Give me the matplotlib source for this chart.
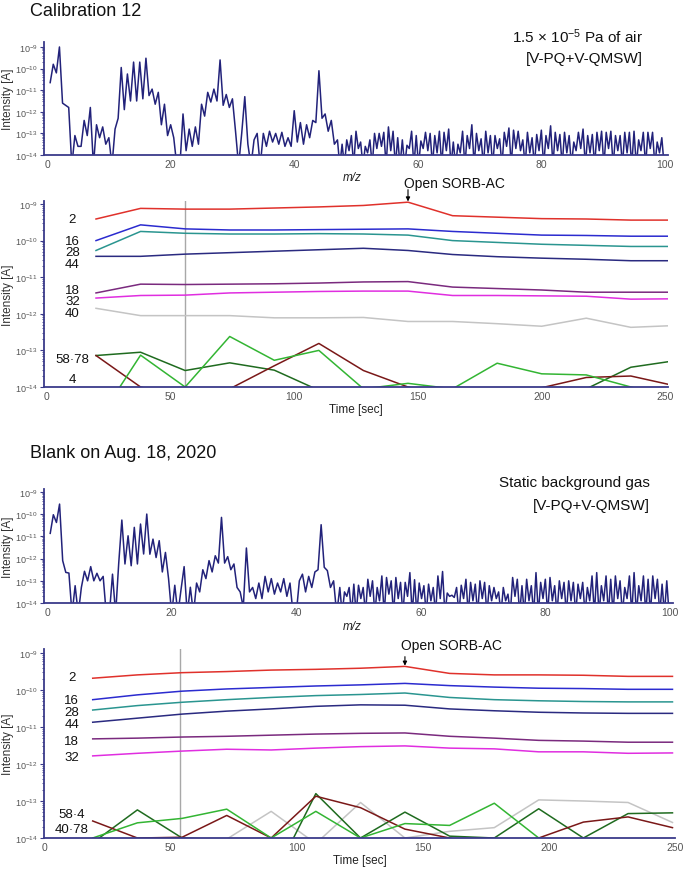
import matplotlib
matplotlib.use('Agg')
import matplotlib.pyplot as plt
import numpy as np
from matplotlib.ticker import LogLocator, LogFormatterMathtext, NullFormatter, FixedLocator

plt.rcParams['font.family'] = ['Liberation Sans', 'DejaVu Sans']
plt.rcParams['mathtext.fontset'] = 'custom'
plt.rcParams['mathtext.rm'] = 'Liberation Sans'
plt.rcParams['mathtext.it'] = 'Liberation Sans:italic'

# ---------------- data (log10 of intensity in A) ----------------
# mass spectra: 0.5 amu steps up to 46.5, then alternating peak / valley
# every 0.375 amu in the noise region
MZ_COARSE = np.arange(0.5, 46.75, 0.5)
MZ_NOISE_PEAKS = np.arange(47.0, 99.6, 0.75)
MZ_NOISE_VALLEYS = MZ_NOISE_PEAKS + 0.375

spec_cal_coarse = [
  -10.65, -9.8, -10.2, -9.0, -11.6, -11.7, -11.8, -14.5, -13.1, -13.6,
  -13.6, -12.4, -13.1, -11.8, -14.5, -12.6, -13.2, -12.7, -13.5, -13.2,
  -14.5, -12.8, -12.3, -9.95, -11.9, -10.25, -11.5, -9.7, -11.5, -9.7,
  -11.4, -9.52, -11.25, -10.95, -11.65, -11.1, -12.6, -11.65, -13.1, -12.6,
  -13.2, -14.5, -14.5, -12.1, -13.8, -12.8, -13.6, -12.7, -13.5, -11.65,
  -12.2, -11.1, -11.55, -10.95, -11.5, -9.6, -11.7, -11.2, -11.8, -11.4,
  -12.9, -14.5, -13.0, -11.3, -13.5, -14.5, -13.3, -13.0, -14.5, -13.0,
  -13.6, -12.9, -13.4, -13.0, -13.5, -12.95, -13.6, -13.2, -13.6, -11.95,
  -13.4, -12.5, -13.5, -12.6, -13.2, -12.4, -12.5, -10.1, -12.3, -12.1,
  -12.9, -12.4, -13.5,
]
cal_noise_peaks = [
  -13.3, -13.5, -13.3, -13.1, -12.9, -13.4, -13.6, -13.3, -13.0, -13.0,
  -12.95, -12.7, -12.9, -13.2, -13.3, -13.55, -12.9, -13.1, -13.35, -12.95,
  -13.0, -13.1, -12.9, -12.95, -12.8, -13.4, -13.5, -12.9, -13.1, -12.6,
  -13.0, -13.25, -12.9, -13.1, -13.1, -13.25, -12.95, -12.75, -12.85, -12.9,
  -13.3, -12.95, -13.2, -13.05, -12.85, -13.1, -12.65, -12.95, -13.05, -12.95,
  -13.1, -13.4, -12.95, -12.8, -13.1, -13.05, -12.95, -12.9, -12.95, -12.9,
  -13.1, -13.1, -12.95, -12.95, -12.9, -13.3, -12.95, -12.95, -12.95, -13.4,
  -13.2,
]
cal_noise_valleys = [
  -14.5, -14.5, -13.8, -14.5, -13.7, -14.5, -13.9, -14.5, -13.7, -13.6,
  -14.5, -13.8, -14.5, -14.5, -14.5, -13.7, -14.5, -14.5, -13.7, -13.8,
  -14.5, -13.9, -14.5, -13.8, -14.5, -14.5, -13.9, -14.5, -13.7, -14.5,
  -13.8, -14.5, -13.9, -14.5, -13.7, -14.5, -13.6, -14.5, -13.7, -13.8,
  -14.5, -13.9, -14.5, -13.8, -14.5, -13.7, -14.5, -13.8, -14.5, -13.9,
  -14.5, -13.8, -13.7, -14.5, -13.9, -14.5, -13.8, -14.5, -13.7, -14.5,
  -13.8, -14.5, -13.9, -14.5, -14.5, -13.8, -14.5, -13.7, -14.5, -13.9,
  -14.5,
]

spec_blank_coarse = [
  -10.86, -10.02, -10.37, -9.54, -12.09, -12.62, -12.65, -14.5, -13.22, -14.5,
  -13.3, -12.57, -13.0, -12.36, -13.0, -12.66, -13.0, -12.8, -14.5, -14.5,
  -12.7, -14.5, -12.2, -10.26, -12.24, -10.97, -12.32, -10.59, -12.24, -10.44,
  -11.79, -9.99, -11.8, -11.12, -11.95, -11.19, -12.6, -11.72, -12.9, -14.5,
  -13.2, -14.5, -13.4, -12.36, -14.5, -13.29, -14.5, -13.1, -13.5, -12.5,
  -12.9, -12.09, -12.6, -11.87, -12.2, -10.14, -12.2, -11.91, -12.5, -12.24,
  -13.3, -13.5, -14.2, -11.52, -13.5, -13.3, -13.8, -13.1, -13.8, -12.8,
  -13.5, -12.9, -13.6, -13.1, -13.5, -12.9, -13.7, -13.1, -14.5, -14.5,
  -13.0, -12.7, -13.5, -12.8, -13.3, -12.6, -12.5, -10.47, -12.39, -12.54,
  -13.3, -13.0, -14.5,
]
blank_noise_peaks = [
  -13.3, -13.5, -13.3, -13.15, -13.2, -13.3, -12.93, -13.0, -13.3, -12.78,
  -12.85, -13.0, -12.85, -13.07, -13.07, -12.63, -12.95, -13.1, -13.22, -13.15,
  -13.3, -12.78, -12.58, -13.55, -13.65, -13.3, -13.2, -12.93, -13.07, -13.15,
  -13.0, -13.07, -13.22, -13.3, -13.5, -13.3, -13.6, -12.85, -12.93, -13.22,
  -12.93, -13.22, -12.63, -13.07, -12.93, -12.85, -13.22, -13.0, -13.07, -13.0,
  -13.07, -13.15, -13.07, -13.3, -12.78, -12.63, -13.22, -12.78, -12.93, -12.78,
  -13.0, -13.3, -12.78, -12.63, -13.22, -12.78, -12.93, -12.78, -12.93, -13.15,
  -13.0,
]
blank_noise_valleys = [
  -14.5, -13.7, -14.5, -14.5, -13.8, -14.5, -13.7, -14.5, -13.9, -14.5,
  -13.6, -14.5, -13.8, -14.5, -13.7, -14.5, -14.5, -13.8, -14.5, -13.9,
  -14.5, -13.8, -14.5, -13.7, -13.75, -14.5, -13.8, -14.5, -13.9, -14.5,
  -13.8, -14.5, -13.9, -13.8, -14.5, -13.9, -14.5, -13.7, -14.5, -14.5,
  -13.9, -14.5, -14.5, -13.8, -14.5, -13.9, -14.5, -13.8, -14.5, -13.9,
  -14.5, -13.8, -14.5, -13.9, -14.5, -14.5, -13.9, -14.5, -14.5, -13.8,
  -14.5, -13.8, -14.5, -14.5, -13.9, -14.5, -14.5, -13.8, -14.5, -14.5,
  -14.5,
]

# time traces
TIMES_CAL = [20, 38, 56, 74, 92, 110, 128, 146, 164, 182, 200, 218, 236, 254]
TIMES_BLANK = [19.3, 37, 54.7, 72.4, 90, 107.7, 125.4, 143, 160.7, 178.4,
               196, 213.7, 231.4, 249]

cal = {
  'm2':  [-9.41, -9.12, -9.14, -9.14, -9.11, -9.08, -9.04, -8.95, -9.32, -9.36, -9.40, -9.41, -9.44, -9.44],
  'm16': [-10.0, -9.57, -9.68, -9.71, -9.71, -9.70, -9.69, -9.68, -9.75, -9.80, -9.85, -9.86, -9.88, -9.88],
  'm28': [-10.27, -9.75, -9.80, -9.82, -9.82, -9.81, -9.82, -9.85, -10.0, -10.05, -10.10, -10.13, -10.16, -10.16],
  'm44': [-10.43, -10.43, -10.37, -10.33, -10.29, -10.25, -10.21, -10.27, -10.38, -10.44, -10.48, -10.51, -10.55, -10.55],
  'm18': [-11.43, -11.19, -11.20, -11.19, -11.18, -11.16, -11.13, -11.12, -11.27, -11.31, -11.35, -11.41, -11.41, -11.41],
  'm32': [-11.57, -11.50, -11.49, -11.43, -11.41, -11.39, -11.38, -11.38, -11.50, -11.50, -11.51, -11.52, -11.60, -11.59],
  'm40': [-11.85, -12.05, -12.05, -12.05, -12.11, -12.11, -12.10, -12.21, -12.21, -12.27, -12.34, -12.12, -12.37, -12.32],
  'm58': [-13.14, -13.05, -13.55, -13.34, -13.54, -14.09, -14.1, -14.1, -14.1, -14.1, -14.1, -14.05, -13.46, -13.28],
  'm4':  [-15.0, -13.13, -14.0, -12.62, -13.27, -13.0, -14.05, -13.9, -14.05, -13.35, -13.64, -13.67, -14.0, -14.3],
  'm78': [-13.14, -14.0, -14.3, -14.05, -13.42, -12.81, -13.55, -14.0, -14.3, -14.3, -14.02, -13.74, -13.70, -13.97],
}

blank = {
  'm2':  [-9.68, -9.59, -9.53, -9.50, -9.46, -9.44, -9.41, -9.36, -9.55, -9.59, -9.59, -9.60, -9.63, -9.63],
  'm16': [-10.26, -10.13, -10.03, -9.97, -9.93, -9.89, -9.86, -9.82, -9.88, -9.92, -9.95, -9.96, -9.98, -9.98],
  'm28': [-10.54, -10.42, -10.33, -10.26, -10.20, -10.15, -10.12, -10.08, -10.20, -10.26, -10.29, -10.31, -10.32, -10.32],
  'm44': [-10.87, -10.76, -10.65, -10.57, -10.51, -10.44, -10.40, -10.41, -10.51, -10.56, -10.60, -10.62, -10.63, -10.63],
  'm18': [-11.32, -11.30, -11.27, -11.25, -11.22, -11.19, -11.17, -11.16, -11.25, -11.30, -11.36, -11.38, -11.41, -11.41],
  'm32': [-11.78, -11.71, -11.65, -11.60, -11.62, -11.57, -11.53, -11.51, -11.57, -11.59, -11.67, -11.67, -11.71, -11.70],
  'm40': [-14.3, -14.3, -14.3, -14.03, -13.28, -14.15, -13.04, -14.0, -13.82, -13.72, -12.97, -13.0, -13.04, -13.58],
  'm58': [-14.13, -13.24, -14.0, -14.05, -15.2, -12.8, -14.0, -13.30, -13.95, -14.0, -13.21, -14.0, -13.34, -13.32],
  'm4':  [-14.0, -13.59, -13.47, -13.22, -14.0, -13.28, -14.0, -13.61, -13.66, -13.06, -14.0, -14.3, -14.3, -14.3],
  'm78': [-13.54, -14.0, -13.98, -13.39, -14.0, -12.87, -13.18, -13.76, -14.0, -14.3, -14.0, -13.57, -13.43, -13.72],
}

SORB_OPEN_CAL = 146
SORB_OPEN_BLANK = 143
GATE_CAL = 56
GATE_BLANK = 54

# ---------------- styles ----------------
NAVY = '#22227a'
AXIS_C = '#3a3a8a'
TICK_C = '#555555'
colors = {
  'm2': '#e0312b', 'm16': '#2b2bcf', 'm28': '#2a9590', 'm44': '#2a2a80',
  'm18': '#7a2a7e', 'm32': '#e02ee0', 'm40': '#c4c4c4', 'm58': '#1f6b1f',
  'm4': '#33b533', 'm78': '#7a1818',
}


def styleAxes(ax, ytop, xlim, xticks):
  ax.set_yscale('log')
  ax.set_ylim(1e-14, ytop)
  ax.set_xlim(*xlim)
  for s in ['top', 'right']:
    ax.spines[s].set_visible(False)
  for s in ['left', 'bottom']:
    ax.spines[s].set_color(AXIS_C)
    ax.spines[s].set_linewidth(1.3)
  ax.yaxis.set_major_locator(FixedLocator([1e-14, 1e-13, 1e-12, 1e-11, 1e-10, 1e-9]))
  ax.yaxis.set_major_formatter(LogFormatterMathtext())
  ax.yaxis.set_minor_locator(LogLocator(base=10, subs=np.arange(2, 10) * 1.0, numticks=20))
  ax.yaxis.set_minor_formatter(NullFormatter())
  ax.tick_params(axis='y', which='major', length=3, width=0.8, color=AXIS_C,
                 labelsize=6.5, labelcolor=TICK_C, pad=1.5)
  ax.tick_params(axis='y', which='minor', length=1.8, width=0.6, color=AXIS_C)
  ax.set_xticks(xticks)
  ax.tick_params(axis='x', length=0, labelsize=7.5, labelcolor=TICK_C, pad=3)
  ax.set_ylabel('Intensity [A]', fontsize=8.5, color='#333333')
  ax.yaxis.set_label_coords(-30 / (ax.get_position().width * W), 0.5)
  ax.patch.set_alpha(0)


def spectrumPanel(rect, coarse, peaks, valleys, ytop, xright):
  ax = fig.add_axes(rect)
  noise = np.empty(2 * len(peaks))
  noise[0::2] = peaks
  noise[1::2] = valleys
  noise_mz = np.empty(2 * len(peaks))
  noise_mz[0::2] = MZ_NOISE_PEAKS
  noise_mz[1::2] = MZ_NOISE_VALLEYS
  mz = np.concatenate([MZ_COARSE, noise_mz])
  vals = np.concatenate([coarse, noise])
  ax.plot(mz, 10.0 ** vals, color=NAVY, lw=1.1, solid_joinstyle='round')
  styleAxes(ax, ytop, (-0.5, xright), [0, 20, 40, 60, 80, 100])
  return ax


def timePanel(rect, times, data, ytop, xlim, gate_t, open_t, labels, label_x, text_off, arrow_off):
  ax = fig.add_axes(rect)
  ax.axvline(gate_t, color='#a8a8a8', lw=1.0, zorder=1)
  order = ['m40', 'm58', 'm78', 'm4', 'm32', 'm18', 'm44', 'm28', 'm16', 'm2']
  for k in order:
    ax.plot(times, 10.0 ** np.array(data[k]), color=colors[k], lw=1.1, zorder=2)
  styleAxes(ax, ytop, xlim, [0, 50, 100, 150, 200, 250])
  for txt, ly in labels:
    ax.text(label_x, 10.0 ** ly, txt, ha='center', va='center', fontsize=9.5, color='#111111')
  i = times.index(open_t)
  ypt = 10.0 ** data['m2'][i]
  ax.annotate('', xy=(open_t, ypt), xytext=(0, arrow_off), textcoords='offset points',
              arrowprops=dict(arrowstyle='-|>', lw=0.8, color='k', mutation_scale=6,
                              shrinkA=0, shrinkB=0.5), annotation_clip=False)
  ax.annotate('Open SORB-AC', xy=(open_t, ypt), xytext=(-3, text_off),
              textcoords='offset points', ha='left', va='center', fontsize=10,
              color='#111111', annotation_clip=False)
  ax.set_xlabel('Time [sec]', fontsize=8.5, color='#222222', labelpad=1)
  return ax


W, H = 685, 870
fig = plt.figure(figsize=(W / 100, H / 100), dpi=100)


def box(l, t, r, b):
  return [l / W, 1 - b / H, (r - l) / W, (b - t) / H]


# ---- Calibration 12 ----
fig.text(30 / W, 1 - 12 / H, 'Calibration 12', fontsize=13, va='center', ha='left', color='#111111')
fig.text(643 / W, 1 - 37 / H, r'1.5 × 10$^{-5}$ Pa of air', fontsize=11, ha='right', va='center', color='#111111')
fig.text(643 / W, 1 - 59 / H, '[V-PQ+V-QMSW]', fontsize=11, ha='right', va='center', color='#111111')

spectrumPanel(box(44, 43, 668, 156), spec_cal_coarse, cal_noise_peaks, cal_noise_valleys,
              10 ** -8.77, 100.5)
fig.text(352 / W, 1 - 178 / H, 'm/z', fontsize=8.5, style='italic', ha='center', va='center', color='#222222')

cal_labels = [('2', -9.41), ('16', -10.01), ('28', -10.31), ('44', -10.64), ('18', -11.35),
              ('32', -11.65), ('40', -11.98), ('58·78', -13.23), ('4', -13.78)]
timePanel(box(44, 201.7, 668, 388), TIMES_CAL, cal, 10 ** -8.91, (-1, 251),
          GATE_CAL, SORB_OPEN_CAL, cal_labels, 10.5, 14, 9)

# ---- Blank on Aug. 18, 2020 ----
fig.text(30 / W, 1 - 453 / H, 'Blank on Aug. 18, 2020', fontsize=13, va='center', ha='left', color='#111111')
fig.text(650 / W, 1 - 483 / H, 'Static background gas', fontsize=11, ha='right', va='center', color='#111111')
fig.text(650 / W, 1 - 506 / H, '[V-PQ+V-QMSW]', fontsize=11, ha='right', va='center', color='#111111')

spectrumPanel(box(44, 490, 673, 604), spec_blank_coarse, blank_noise_peaks, blank_noise_valleys,
              10 ** -8.86, 100.5)
fig.text(352 / W, 1 - 627 / H, 'm/z', fontsize=8.5, style='italic', ha='center', va='center', color='#222222')

blank_labels = [('2', -9.65), ('16', -10.27), ('28', -10.6), ('44', -10.92), ('18', -11.38),
                ('32', -11.81), ('58·4', -13.34), ('40·78', -13.76)]
timePanel(box(44, 650, 675, 839), TIMES_BLANK, blank, 10 ** -8.89, (0, 250),
          GATE_BLANK, SORB_OPEN_BLANK, blank_labels, 11, 15.5, 7)

fig.savefig('out.png', dpi=100)
